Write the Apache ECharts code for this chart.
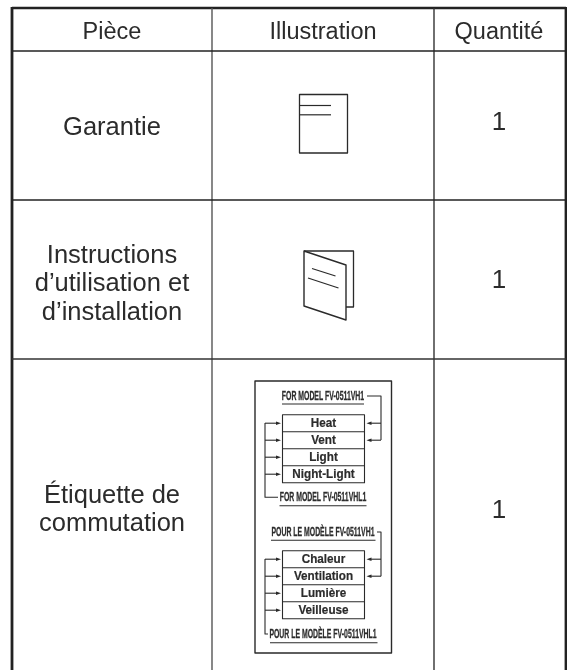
<!DOCTYPE html>
<html>
<head>
<meta charset="utf-8">
<style>html,body{margin:0;padding:0;background:#fff}#main{width:567px;height:670px}</style>
<script src="https://cdn.jsdelivr.net/npm/echarts@6/dist/echarts.min.js"></script>
</head>
<body>
<div id="main"></div>
<script>
// table content
var headers = ['Pièce', 'Illustration', 'Quantité'];
var parts = [['Garantie'], ['Instructions', 'd’utilisation et', 'd’installation'], ['Étiquette de', 'commutation']];
var quantities = ['1', '1', '1'];
// switch label content
var labelTitles = ['FOR MODEL FV-0511VH1', 'FOR MODEL FV-0511VHL1', 'POUR LE MODÈLE FV-0511VH1', 'POUR LE MODÈLE FV-0511VHL1'];
var switchesEn = ['Heat', 'Vent', 'Light', 'Night-Light'];
var switchesFr = ['Chaleur', 'Ventilation', 'Lumière', 'Veilleuse'];

var INK = '#2a2a2a';
var SANS = '"Liberation Sans", Arial, sans-serif';
var NARROW = '"Liberation Sans Narrow", "Liberation Sans", Arial, sans-serif';
var els = [];

function line(x1, y1, x2, y2, w, color) {
  els.push({ type: 'line', silent: true, shape: { x1: x1, y1: y1, x2: x2, y2: y2 },
    style: { stroke: color || INK, lineWidth: w || 1 } });
}
function poly(points, w, closed) {
  els.push({ type: closed ? 'polygon' : 'polyline', silent: true, shape: { points: points },
    style: { stroke: INK, fill: closed ? '#fff' : null, lineWidth: w || 1.2, lineJoin: 'round' } });
}
function text(str, x, y, size, opts) {
  opts = opts || {};
  els.push({ type: 'text', silent: true, x: x, y: y, scaleX: opts.scaleX || 1, originX: 0, originY: 0,
    style: { text: str, x: 0, y: 0, fill: opts.color || '#2b2b2b', align: 'center', verticalAlign: 'middle',
      stroke: opts.thick ? '#2b2b2b' : null, lineWidth: opts.thick || 0,
      font: (opts.weight || 'normal') + ' ' + size + 'px ' + (opts.family || SANS) } });
}
function arrow(xFrom, xTip, y) {
  var dir = xTip > xFrom ? 1 : -1;
  line(xFrom, y, xTip - dir * 3, y, 1.1);
  els.push({ type: 'polygon', silent: true,
    shape: { points: [[xTip, y], [xTip - dir * 5, y - 1.8], [xTip - dir * 5, y + 1.8]] },
    style: { fill: INK, stroke: null } });
}

// frame and grid, the reference is cut off at the bottom
var colX = [12, 212, 434, 566];
var rowY = [8, 51, 200, 359];
var colMid = [112, 323, 499];
line(colX[0], 7, colX[0], 670, 2.8, '#222');
line(colX[3], 7, colX[3], 670, 2.8, '#222');
line(colX[0], rowY[0], colX[3], rowY[0], 2.6, '#222');
line(colX[1], rowY[0], colX[1], 670, 1.4, '#555');
line(colX[2], rowY[0], colX[2], 670, 1.4, '#333');
line(colX[0], rowY[1], colX[3], rowY[1], 1.3, '#222');
line(colX[0], rowY[2], colX[3], rowY[2], 1.3, '#222');
line(colX[0], rowY[3], colX[3], rowY[3], 1.3, '#333');

// header and text cells
headers.forEach(function (h, i) { text(h, colMid[i], 32.5, 23.5); });
var rowMid = [127.5, 284, 510];
var qtyMid = [123, 280.5, 510.5];
var lineGap = 28.5;
parts.forEach(function (lines, r) {
  lines.forEach(function (s, i) {
    text(s, colMid[0], rowMid[r] + (i - (lines.length - 1) / 2) * lineGap, 25.5);
  });
  text(quantities[r], colMid[2], qtyMid[r], 26);
});

// warranty sheet
poly([[299.5, 94.5], [347.5, 94.5], [347.5, 153], [299.5, 153]], 1.3, true);
line(300, 105.5, 331, 105.5, 1.2);
line(300, 114.8, 331, 114.8, 1.2);

// booklet
poly([[304, 251], [353.5, 251], [353.5, 307], [346, 307]], 1.3);
poly([[304, 251], [346, 265], [346, 320], [304, 306]], 1.4, true);
line(312, 268.5, 335.5, 276, 1.3);
line(308, 278, 338.5, 288, 1.3);

// switch label
poly([[255, 381], [391.5, 381], [391.5, 653], [255, 653]], 1.4, true);

function switchBlock(names, top, titleA, yA, ulA, titleB, yB, ulB) {
  var rowH = 17;
  poly([[282.5, top], [364.5, top], [364.5, top + rowH * 4], [282.5, top + rowH * 4]], 1.1, true);
  names.forEach(function (n, i) {
    if (i) line(282.5, top + rowH * i, 364.5, top + rowH * i, 1.1);
    text(n, 323.5, top + rowH * i + rowH / 2 + 0.5, 13, { weight: 'bold', scaleX: 0.9, thick: 0.2 });
    arrow(265, 281, top + rowH * i + rowH / 2);
    if (i < 2) arrow(381, 366.5, top + rowH * i + rowH / 2);
  });
  text(titleA.s, 323, yA, 13, { weight: 'bold', family: NARROW, scaleX: 0.53, thick: 0.3 });
  line(titleA.l, ulA, titleA.r, ulA, 1.1);
  text(titleB.s, 323, yB, 13, { weight: 'bold', family: NARROW, scaleX: 0.53, thick: 0.3 });
  line(titleB.l, ulB, titleB.r, ulB, 1.1);
}
switchBlock(switchesEn, 414.7,
  { s: labelTitles[0], l: 282, r: 364 }, 396, 404,
  { s: labelTitles[1], l: 279.5, r: 366.5 }, 497.3, 505.7);
poly([[367, 396], [381, 396], [381, 440]], 1.1);
poly([[265, 423], [265, 497.3], [278, 497.3]], 1.1);

switchBlock(switchesFr, 550.7,
  { s: labelTitles[2], l: 271, r: 375.5 }, 532.3, 540.3,
  { s: labelTitles[3], l: 270, r: 377.5 }, 634, 642.7);
poly([[377, 532], [381, 532], [381, 576.3]], 1.1);
poly([[265, 559], [265, 634], [268, 634]], 1.1);

var chart = echarts.init(document.getElementById('main'));
chart.setOption({
  animation: false,
  backgroundColor: '#fff',
  graphic: { elements: els }
});
</script>
</body>
</html>
